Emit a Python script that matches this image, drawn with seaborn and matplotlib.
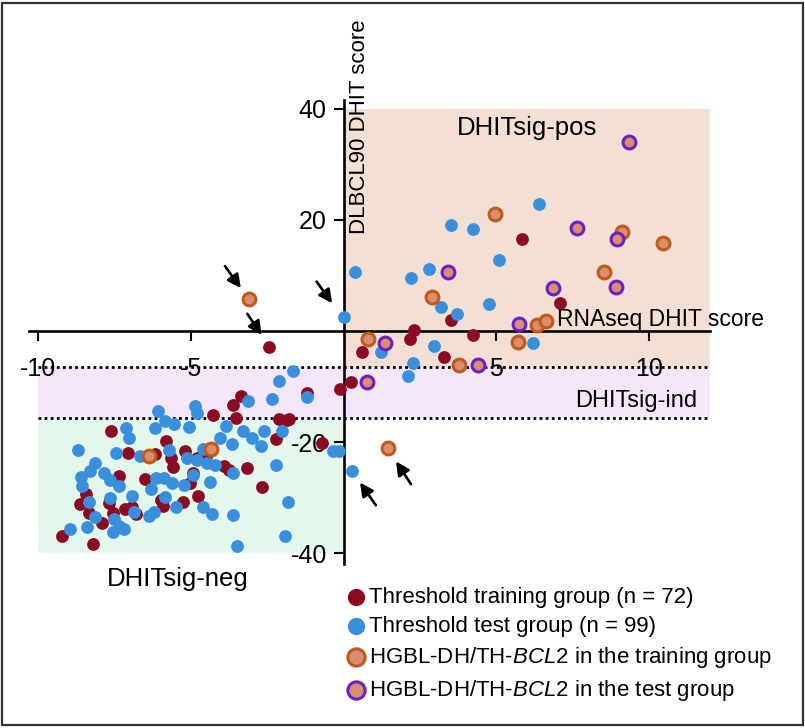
import matplotlib
matplotlib.use('Agg')
import matplotlib.pyplot as plt
import seaborn as sns
import pandas as pd
from matplotlib.patches import Rectangle

sns.set_theme(style='white')
plt.rcParams['font.family'] = ['Liberation Sans', 'DejaVu Sans']
plt.rcParams['mathtext.fontset'] = 'custom'
plt.rcParams['mathtext.rm'] = 'Liberation Sans'
plt.rcParams['mathtext.it'] = 'Liberation Sans:italic'
plt.rcParams['text.color'] = 'black'
plt.rcParams['xtick.color'] = 'black'
plt.rcParams['ytick.color'] = 'black'

# ---------------- data (RNAseq DHIT score, DLBCL90 DHIT score) ----------------
train_x = [-3.36, -1.20, -3.63, -4.28, -3.53, -2.10, -1.86, -1.77, -7.62, -2.21,
           -5.82, -0.71, -7.04, -6.17, -5.65, -5.57, -5.19, -4.81, -4.50, -3.90,
           -3.74, -3.16, -7.35, -6.50, -5.02, -4.92, -2.68, -8.43, -8.63, -7.68,
           -5.98, -5.90, -4.77, -5.24, -8.32, -7.54, -7.15, -6.91, -6.79, -7.91,
           -9.20, -8.21, -0.11, 0.24, -2.44, 5.85, 7.09, 3.52, 2.31, 2.18,
           4.25, 0.60, 3.28]
train_y = [-11.7, -11.2, -13.3, -15.2, -15.7, -15.8, -16.0, -15.8, -18.0, -19.4,
           -19.9, -20.2, -22.0, -22.2, -22.9, -24.5, -21.7, -22.8, -22.6, -24.3,
           -25.0, -24.7, -26.1, -26.7, -27.4, -25.6, -28.1, -29.4, -31.2, -30.9,
           -30.5, -31.5, -29.7, -30.8, -32.8, -32.8, -32.1, -31.8, -33.0, -34.6,
           -36.9, -38.4, -10.5, -9.2, -2.8, 16.5, 5.1, 2.0, 0.2, -1.4,
           -0.7, -3.8, -4.6]

test_x = [-1.64, -2.10, -3.14, -2.33, -1.18, -4.86, -4.81, -6.06, -5.84, -5.54,
          -6.17, -7.13, -7.02, -5.05, -3.86, -4.04, -3.30, -3.00, -2.59, -2.00,
          -2.70, -3.66, -8.68, -7.45, -6.66, -5.72, -5.13, -4.59, -4.79, -4.48,
          -4.20, -3.63, -2.21, -8.13, -8.30, -7.83, -8.60, -8.57, -7.64, -7.35,
          -6.15, -5.87, -5.60, -6.30, -5.22, -4.94, -4.37, -8.33, -7.64, -6.91,
          -5.84, -5.49, -4.59, -4.31, -3.63, -1.83, -7.50, -6.85, -6.37, -6.19,
          -8.12, -8.41, -7.35, -7.18, -7.55, -8.95, -3.49, -1.91, -0.35, -0.14,
          0.27, 0.00,
          6.40, 3.52, 4.23, 5.10, 0.38, 2.80, 2.20, 3.18, 4.76, 3.70,
          6.21, 1.22, 2.96, 2.26, 2.12]
test_y = [-7.2, -9.0, -12.6, -12.3, -11.9, -13.6, -14.7, -14.4, -16.2, -16.7,
          -17.4, -17.4, -19.2, -17.3, -17.1, -19.2, -18.0, -19.2, -18.0, -18.0,
          -20.7, -20.4, -21.5, -22.0, -22.5, -21.4, -22.8, -21.3, -23.2, -23.8,
          -24.1, -25.5, -24.1, -23.8, -25.3, -25.5, -26.3, -27.9, -26.8, -27.9,
          -26.4, -26.5, -27.3, -28.5, -27.7, -26.0, -27.2, -30.8, -30.0, -29.7,
          -29.9, -31.8, -31.8, -33.0, -33.2, -30.8, -33.9, -32.7, -33.3, -32.6,
          -33.6, -35.4, -35.1, -35.7, -36.3, -35.7, -38.7, -36.9, -21.6, -21.6,
          -25.3, 2.5,
          22.8, 19.1, 18.4, 12.8, 10.7, 11.2, 9.5, 4.3, 4.8, 3.1,
          -2.1, -3.8, -2.7, -5.8, -8.1]

hgbl_train_x = [-3.09, -6.37, -4.35, 4.96, 9.10, 10.47, 8.54, 2.91, 6.34, 6.62, 0.81, 5.72, 3.79, 1.47]
hgbl_train_y = [5.7, -22.6, -21.2, 21.0, 17.9, 15.8, 10.7, 6.2, 1.1, 1.8, -1.4, -1.9, -6.2, -21.1]

hgbl_test_x = [9.34, 7.63, 8.96, 3.41, 6.87, 8.91, 5.74, 1.36, 4.41, 0.78]
hgbl_test_y = [34.0, 18.5, 16.5, 10.6, 7.7, 8.0, 1.2, -2.2, -6.2, -9.2]

group_labels = ["Threshold training group (n = 72)",
                "Threshold test group (n = 99)",
                r"HGBL-DH/TH-$\mathit{BCL2}$ in the training group",
                r"HGBL-DH/TH-$\mathit{BCL2}$ in the test group"]

x_ticks = [-10, -5, 5, 10]
y_ticks = [-40, -20, 20, 40]

pos_thr = -6.5
neg_thr = -15.6

# arrows: (tail x, tail y, head x, head y)
arrows = [(-3.88, 11.7, -3.36, 7.7),
          (-3.15, 3.1, -2.68, -0.7),
          (-0.88, 8.9, -0.37, 5.0),
          (1.06, -31.4, 0.54, -27.3),
          (2.21, -27.6, 1.72, -23.5)]

# ---------------- styling ----------------
RED = '#8C0B24'
BLUE = '#3A8FDD'
HG_FILL = '#D98E6E'
HG_TRAIN_EDGE = '#C05A1C'
HG_TEST_EDGE = '#6A1FC8'
BG_POS = '#F3DFD3'
BG_IND = '#F5E7FB'
BG_NEG = '#E3F7EC'

fig = plt.figure(figsize=(8.05, 7.28), dpi=100)
fig.patch.set_facecolor('white')
ax = fig.add_axes([0.0282, 0.2175, 0.8919, 0.6633])
ax.set_facecolor('white')
ax.set_xlim(-10.5, 13.0)
ax.set_ylim(-43, 44)

# background regions
ax.add_patch(Rectangle((0, pos_thr), 12, 40 - pos_thr, color=BG_POS, zorder=0, lw=0))
ax.add_patch(Rectangle((-10, neg_thr), 22, pos_thr - neg_thr, color=BG_IND, zorder=0, lw=0))
ax.add_patch(Rectangle((-10, -40), 10, 40 + neg_thr, color=BG_NEG, zorder=0, lw=0))
ax.hlines([pos_thr, neg_thr], -10, 12, colors='black', linestyles=(0, (1, 1.2)), lw=2.0, zorder=1)

df_train = pd.DataFrame({'x': train_x, 'y': train_y})
df_test = pd.DataFrame({'x': test_x, 'y': test_y})
df_htr = pd.DataFrame({'x': hgbl_train_x, 'y': hgbl_train_y})
df_hte = pd.DataFrame({'x': hgbl_test_x, 'y': hgbl_test_y})

S = 85
sns.scatterplot(data=df_train, x='x', y='y', ax=ax, color=RED, edgecolor=RED, s=S,
                linewidth=0, label=group_labels[0], zorder=3)
sns.scatterplot(data=df_test, x='x', y='y', ax=ax, color=BLUE, edgecolor=BLUE, s=S,
                linewidth=0, label=group_labels[1], zorder=3)
sns.scatterplot(data=df_htr, x='x', y='y', ax=ax, color=HG_FILL, edgecolor=HG_TRAIN_EDGE, s=S,
                linewidth=2.2, label=group_labels[2], zorder=4)
sns.scatterplot(data=df_hte, x='x', y='y', ax=ax, color=HG_FILL, edgecolor=HG_TEST_EDGE, s=S,
                linewidth=2.2, label=group_labels[3], zorder=4)

# axes through origin
for s in ['top', 'right']:
    ax.spines[s].set_visible(False)
ax.spines['left'].set_position(('data', 0))
ax.spines['bottom'].set_position(('data', 0))
ax.spines['left'].set_bounds(-42, 41.6)
ax.spines['bottom'].set_bounds(-10.3, 12.0)
for s in ['left', 'bottom']:
    ax.spines[s].set_linewidth(1.9)
    ax.spines[s].set_color('black')
    ax.spines[s].set_zorder(2)

ax.set_xticks(x_ticks)
ax.set_yticks(y_ticks)
ax.set_xticklabels([str(v) for v in x_ticks])
ax.set_yticklabels([str(v) for v in y_ticks])
ax.tick_params(axis='x', direction='out', length=7, width=1.5, pad=12, labelsize=18,
               colors='black', bottom=True)
ax.tick_params(axis='y', direction='out', length=7, width=1.5, pad=5, labelsize=18,
               colors='black', left=True)
ax.set_xlabel('')
ax.set_ylabel('')

# axis titles & region labels
ax.text(7.0, 2.0, 'RNAseq DHIT score', fontsize=16.5, ha='left', va='center', zorder=5, color='black')
ax.text(0.54, 36.8, 'DLBCL90 DHIT score', fontsize=16, rotation=90, ha='center', va='center',
        clip_on=False, zorder=5, color='black')
ax.text(6.0, 36.6, 'DHITsig-pos', fontsize=18.5, ha='center', va='center', zorder=5, color='black')
ax.text(11.57, -12.6, 'DHITsig-ind', fontsize=17, ha='right', va='center', zorder=5, color='black')
ax.text(-5.42, -44.7, 'DHITsig-neg', fontsize=18.5, ha='center', va='center', clip_on=False,
        zorder=5, color='black')

for tx, ty, hx, hy in arrows:
    ax.annotate('', xy=(hx, hy), xytext=(tx, ty),
                arrowprops=dict(arrowstyle='-|>', color='black', lw=1.9, mutation_scale=20,
                                shrinkA=0, shrinkB=0), zorder=6)

leg = ax.legend(loc='upper left', bbox_to_anchor=(345 / 805, 1 - 587 / 728), bbox_transform=fig.transFigure,
                frameon=False, fontsize=16, borderpad=0, handletextpad=0.1, handlelength=1.0,
                labelspacing=0.36, markerscale=1.35, borderaxespad=0)
for t in leg.get_texts():
    t.set_color('black')

# outer frame
fig.patches.append(Rectangle((0.003, 0.004), 0.994, 0.992, transform=fig.transFigure,
                             fill=False, edgecolor='#333333', lw=1.6))

fig.savefig('out.png', dpi=100)
